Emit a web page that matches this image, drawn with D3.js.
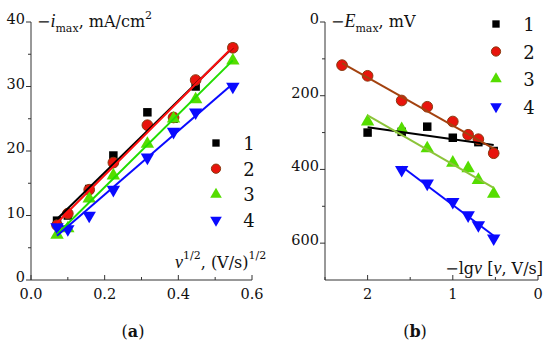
<!DOCTYPE html>
<html>
<head>
<meta charset="utf-8">
<script src="https://cdn.jsdelivr.net/npm/d3@7"></script>
<style>
  body { margin: 0; background: #fff; }
  svg text { font-family: "DejaVu Serif", "Liberation Serif", serif; fill: #111; }
  svg tspan.it { font-family: "Liberation Serif", serif; font-style: italic; font-size: 18px; }
</style>
</head>
<body>
<svg id="chart" width="550" height="346"></svg>
<script>
// panel (a): -i_max vs v^1/2
const sqrtV = [0.0707, 0.1, 0.158, 0.2236, 0.316, 0.387, 0.447, 0.548];
const iMax1 = [9.2, 10, 14.1, 19.3, 26, 25, 30, 36];
const iMax2 = [8.5, 10.3, 14, 18.2, 24, 25.2, 31, 36];
const iMax3 = [7, 8, 12.6, 16.2, 21.1, 25, 28, 34];
const iMax4 = [8.2, 7.9, 10, 14, 19, 23, 26, 30];

// panel (b): -E_max vs -lg v
const lgV = [2.3, 2, 1.6, 1.3, 1, 0.82, 0.7, 0.52];
const eMax1 = [null, 300, 298, 284, 314, null, 326, 350];
const eMax2 = [117, 146, 213, 230, 270, 306, 318, 356];
const eMax3 = [null, 270, 291, 343, 382, 397, 429, 466];
const eMax4 = [null, null, 401, 438, 488, 524, 551, 587];

const seriesNames = ['1', '2', '3', '4'];
const leftTicksX = [0, 0.2, 0.4, 0.6];
const leftTicksY = [0, 10, 20, 30, 40];
const rightTicksX = [2, 1, 0];
const rightTicksY = [0, 200, 400, 600];

const styles = [
    { symbol: d3.symbolSquare, size: 72, rot: 0, fill: '#000', stroke: 'none', lineA: '#000', lineB: '#000' },
    { symbol: d3.symbolCircle, size: 90, rot: 0, fill: '#e8140c', stroke: '#8a3a10', lineA: '#ff1010', lineB: '#a3420f' },
    { symbol: d3.symbolTriangle, size: 78, rot: 0, fill: '#55dd00', stroke: 'none', lineA: '#22dd00', lineB: '#8cc43a' },
    { symbol: d3.symbolTriangle, size: 78, rot: 180, fill: '#0a0aff', stroke: 'none', lineA: '#0a0aff', lineB: '#0a0aff' }
];

const svg = d3.select('#chart');

function fit(xs, ys) {
    const pts = xs.map((x, i) => [x, ys[i]]).filter(p => p[1] != null);
    const mx = d3.mean(pts, p => p[0]);
    const my = d3.mean(pts, p => p[1]);
    const k = d3.sum(pts, p => (p[0] - mx) * (p[1] - my)) / d3.sum(pts, p => (p[0] - mx) ** 2);
    const ext = d3.extent(pts, p => p[0]);
    return ext.map(x => [x, my + k * (x - mx)]);
}

function drawPanel(opt) {
    const g = svg.append('g');
    const x = opt.x, y = opt.y;
    const [x0, x1] = x.range();
    const [yb, yt] = y.range()[0] > y.range()[1] ? y.range() : [y.range()[1], y.range()[0]];
    const axisColor = '#333';

    // axis lines
    g.append('line').attr('x1', x0).attr('x2', x1).attr('y1', yb).attr('y2', yb)
        .attr('stroke', axisColor).attr('stroke-width', 1);
    g.append('line').attr('x1', x0).attr('x2', x0).attr('y1', yb).attr('y2', yt)
        .attr('stroke', axisColor).attr('stroke-width', 1);

    // x ticks (inside)
    opt.xMinor.forEach(v => {
        g.append('line').attr('x1', x(v)).attr('x2', x(v)).attr('y1', yb).attr('y2', yb - 3)
            .attr('stroke', axisColor);
    });
    opt.xTicks.forEach(v => {
        g.append('line').attr('x1', x(v)).attr('x2', x(v)).attr('y1', yb).attr('y2', yb - 5)
            .attr('stroke', axisColor);
        g.append('text').attr('x', x(v)).attr('y', yb + 19).attr('text-anchor', 'middle')
            .style('font-size', '14.5px').text(opt.xFmt(v));
    });

    // y ticks (outside)
    opt.yMinor.forEach(v => {
        g.append('line').attr('x1', x0).attr('x2', x0 - 3).attr('y1', y(v)).attr('y2', y(v))
            .attr('stroke', axisColor);
    });
    opt.yTicks.forEach(v => {
        g.append('line').attr('x1', x0).attr('x2', x0 - 5).attr('y1', y(v)).attr('y2', y(v))
            .attr('stroke', axisColor);
        g.append('text').attr('x', x0 - 6).attr('y', y(v) + 2).attr('text-anchor', 'end')
            .style('font-size', '14.5px').text(v);
    });

    // markers
    opt.series.forEach((ys, s) => {
        const st = styles[s];
        g.selectAll(null)
            .data(opt.xs.map((v, i) => [v, ys[i]]).filter(p => p[1] != null))
            .enter()
            .append('path')
            .attr('d', d3.symbol().type(st.symbol).size(st.size))
            .attr('transform', d => `translate(${x(d[0])},${y(d[1])}) rotate(${st.rot})`)
            .attr('fill', st.fill)
            .attr('stroke', st.stroke)
            .attr('stroke-width', 1);
    });

    // fitted lines
    opt.series.forEach((ys, s) => {
        const pts = fit(opt.xs, ys);
        g.append('path')
            .attr('d', d3.line().x(d => x(d[0])).y(d => y(d[1]))(pts))
            .attr('fill', 'none')
            .attr('stroke', opt.lineKey === 'A' ? styles[s].lineA : styles[s].lineB)
            .attr('stroke-width', 2);
    });

    // legend
    seriesNames.forEach((name, s) => {
        const st = styles[s];
        const ly = opt.legend.y + s * opt.legend.step;
        g.append('path')
            .attr('d', d3.symbol().type(st.symbol).size(st.size * 0.75))
            .attr('transform', `translate(${opt.legend.x},${ly}) rotate(${st.rot})`)
            .attr('fill', st.fill)
            .attr('stroke', st.stroke);
        g.append('text').attr('x', opt.legend.x + 33).attr('y', ly + 7)
            .attr('text-anchor', 'middle').style('font-size', '18px').text(name);
    });
    return g;
}

// panel (a)
const xa = d3.scaleLinear().domain([0, 0.6]).range([31, 252]);
const ya = d3.scaleLinear().domain([0, 40]).range([280, 22]);
drawPanel({
    x: xa, y: ya, xs: sqrtV,
    series: [iMax1, iMax2, iMax3, iMax4],
    xTicks: leftTicksX, xMinor: [0.1, 0.3, 0.5], xFmt: d3.format('.1f'),
    yTicks: leftTicksY, yMinor: [5, 15, 25, 35],
    lineKey: 'A',
    legend: { x: 216, y: 143, step: 25.7 }
});

// panel (b)
const xb = d3.scaleLinear().domain([2.5, 0]).range([325, 538]);
const yb = d3.scaleLinear().domain([0, 700]).range([22, 280]);
drawPanel({
    x: xb, y: yb, xs: lgV,
    series: [eMax1, eMax2, eMax3, eMax4],
    xTicks: rightTicksX, xMinor: [2.5, 1.5, 0.5], xFmt: d3.format('d'),
    yTicks: rightTicksY, yMinor: [100, 300, 500],
    lineKey: 'B',
    legend: { x: 496, y: 24, step: 27.5 }
});

// axis titles
const ta = svg.append('text').attr('x', 37).attr('y', 27).style('font-size', '16px');
ta.append('tspan').text('\u2212');
ta.append('tspan').attr('class', 'it').text('i');
ta.append('tspan').attr('dy', 5).style('font-size', '11px').text('max');
ta.append('tspan').attr('dy', -5).text(', mA/cm');
ta.append('tspan').attr('dy', -8).style('font-size', '11px').text('2');

const tx = svg.append('text').attr('x', 175).attr('y', 268).style('font-size', '16px');
tx.append('tspan').attr('class', 'it').text('v');
tx.append('tspan').attr('dy', -9).style('font-size', '11px').text('1/2');
tx.append('tspan').attr('dy', 9).text(', (V/s)');
tx.append('tspan').attr('dy', -9).style('font-size', '11px').text('1/2');

const tb = svg.append('text').attr('x', 331).attr('y', 27).style('font-size', '16px');
tb.append('tspan').text('\u2212');
tb.append('tspan').attr('class', 'it').text('E');
tb.append('tspan').attr('dy', 5).style('font-size', '11px').text('max');
tb.append('tspan').attr('dy', -5).text(', mV');

const txb = svg.append('text').attr('x', 543).attr('y', 274).attr('text-anchor', 'end').style('font-size', '16px');
txb.append('tspan').text('\u2212lg');
txb.append('tspan').attr('class', 'it').text('v');
txb.append('tspan').text(' [');
txb.append('tspan').attr('class', 'it').text('v');
txb.append('tspan').text(', V/s]');

[['a', 133], ['b', 415]].forEach(([lab, cx]) => {
    const t = svg.append('text').attr('x', cx).attr('y', 337).attr('text-anchor', 'middle')
        .style('font-size', '16px');
    t.append('tspan').text('(');
    t.append('tspan').style('font-weight', 'bold').text(lab);
    t.append('tspan').text(')');
});
</script>
</body>
</html>
